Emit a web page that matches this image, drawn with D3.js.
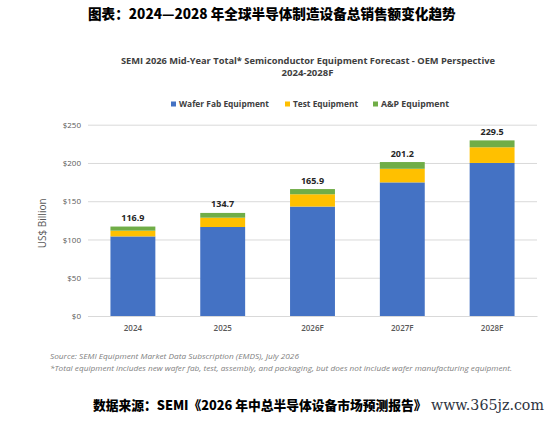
<!DOCTYPE html>
<html>
<head>
<meta charset="utf-8">
<script src="https://cdn.jsdelivr.net/npm/d3@7"></script>
<style>
  html, body { margin: 0; padding: 0; background: #fff; }
  svg { display: block; }
</style>
</head>
<body>
<svg id="chart" width="551" height="424"></svg>
<script>
// data (US$ billion)
const years = ['2024', '2025', '2026F', '2027F', '2028F'];
const waferFab = [104.0, 116.3, 143.0, 174.6, 200.0];
const testEq = [7.5, 12.2, 16.1, 17.8, 20.5];
const apEq = [5.4, 6.2, 6.8, 8.8, 9.0];
const totals = [116.9, 134.7, 165.9, 201.2, 229.5];
const seriesNames = ['Wafer Fab Equipment', 'Test Equipment', 'A&P Equipment'];
const seriesColors = ['#4472C4', '#FFC000', '#70AD47'];
const yTicks = [0, 50, 100, 150, 200, 250];

const pageTitle = '图表：2024—2028 年全球半导体制造设备总销售额变化趋势';
const chartTitle = ['SEMI 2026 Mid-Year Total* Semiconductor Equipment Forecast - OEM Perspective', '2024-2028F'];
const notes = [
  'Source: SEMI Equipment Market Data Subscription (EMDS), July 2026',
  '*Total equipment includes new wafer fab, test, assembly, and packaging, but does not include wafer manufacturing equipment.'
];
const footer = '数据来源：SEMI《2026 年中总半导体设备市场预测报告》';
const watermark = 'www.365jz.com';

const latin = 'Open Sans, Lato, sans-serif';
const cjk = '"Noto Sans CJK SC", sans-serif';

const svg = d3.select('#chart');
const plot = { left: 88, right: 537, top: 124.7, bottom: 316 };

// shrink/grow font so the natural text width equals the wanted width
function fitText(sel, width) {
  const size = parseFloat(sel.style('font-size'));
  const natural = sel.node().getComputedTextLength();
  sel.style('font-size', (size * width / natural) + 'px');
  return sel;
}

// table for the stack
const rows = years.map((y, i) => ({ year: y, wafer: waferFab[i], test: testEq[i], ap: apEq[i] }));
const keys = ['wafer', 'test', 'ap'];
const stacked = d3.stack().keys(keys)(rows);

const x = d3.scaleBand().domain(years)
  .range([plot.left, plot.right])
  .paddingInner(0.5).paddingOuter(0.25);
const y = d3.scaleLinear().domain([0, 250]).range([plot.bottom, plot.top]);

// page title (chinese)
const t0 = svg.append('text')
  .attr('x', 88).attr('y', 19)
  .style('font-family', cjk).style('font-weight', 900).style('font-size', '15px')
  .attr('fill', '#000')
  .text(pageTitle);
fitText(t0, 368);

// chart title
svg.append('text')
  .attr('x', 121).attr('y', 63.5)
  .attr('textLength', 374).attr('lengthAdjust', 'spacingAndGlyphs')
  .style('font-family', latin).style('font-weight', 700).style('font-size', '9.5px')
  .attr('fill', '#404040')
  .text(chartTitle[0]);
svg.append('text')
  .attr('x', 307.5).attr('y', 75.5)
  .attr('text-anchor', 'middle')
  .attr('textLength', 52).attr('lengthAdjust', 'spacingAndGlyphs')
  .style('font-family', latin).style('font-weight', 700).style('font-size', '9.5px')
  .attr('fill', '#404040')
  .text(chartTitle[1]);

// legend
const legendX = [171, 285, 373];
const legendW = [90, 65, 68];
const legend = svg.append('g').attr('class', 'legend');
seriesNames.forEach((name, i) => {
  legend.append('rect')
    .attr('x', legendX[i]).attr('y', 101.5)
    .attr('width', 5).attr('height', 5)
    .attr('fill', seriesColors[i]);
  legend.append('text')
    .attr('x', legendX[i] + 8).attr('y', 107.3)
    .attr('textLength', legendW[i]).attr('lengthAdjust', 'spacingAndGlyphs')
    .style('font-family', latin).style('font-weight', 700).style('font-size', '8px')
    .attr('fill', '#404040')
    .text(name);
});

// gridlines + y ticks
const yAxis = svg.append('g')
  .attr('transform', `translate(${plot.left},0)`)
  .call(d3.axisLeft(y).tickValues(yTicks)
    .tickSize(-(plot.right - plot.left))
    .tickPadding(7)
    .tickFormat(d => '$' + d));
yAxis.select('.domain').remove();
yAxis.selectAll('.tick line').attr('stroke', '#d9d9d9').attr('stroke-width', 1);
yAxis.selectAll('.tick text')
  .attr('fill', '#595959')
  .style('font-family', latin).style('font-size', '8px');

// y axis title
svg.append('text')
  .attr('transform', `translate(46,${(plot.top + plot.bottom) / 2 + 3}) rotate(-90)`)
  .attr('text-anchor', 'middle')
  .style('font-family', latin).style('font-size', '10px')
  .attr('fill', '#595959')
  .text('US$ Billion');

// stacked bars
svg.append('g').selectAll('g')
  .data(stacked)
  .join('g')
  .attr('fill', (d, i) => seriesColors[i])
  .selectAll('rect')
  .data(d => d)
  .join('rect')
  .attr('x', d => x(d.data.year))
  .attr('width', x.bandwidth())
  .attr('y', d => y(d[1]))
  .attr('height', d => y(d[0]) - y(d[1]));

// total labels
svg.append('g').selectAll('text')
  .data(years)
  .join('text')
  .attr('x', d => x(d) + x.bandwidth() / 2)
  .attr('y', (d, i) => y(totals[i]) - 5.5)
  .attr('text-anchor', 'middle')
  .style('font-family', latin).style('font-weight', 700).style('font-size', '9px')
  .attr('fill', '#262626')
  .text((d, i) => totals[i].toFixed(1));

// x axis labels
const xAxis = svg.append('g')
  .attr('transform', `translate(0,${plot.bottom})`)
  .call(d3.axisBottom(x).tickSize(0).tickPadding(9));
xAxis.select('.domain').attr('stroke', '#d9d9d9');
xAxis.selectAll('.tick text')
  .attr('fill', '#595959')
  .style('font-family', latin).style('font-weight', 600).style('font-size', '8px');

// notes
svg.append('text')
  .attr('x', 50).attr('y', 358.5)
  .attr('textLength', 249).attr('lengthAdjust', 'spacingAndGlyphs')
  .style('font-family', latin).style('font-style', 'italic').style('font-size', '7px')
  .attr('fill', '#7f7f7f')
  .text(notes[0]);
svg.append('text')
  .attr('x', 50).attr('y', 370.5)
  .attr('textLength', 462).attr('lengthAdjust', 'spacingAndGlyphs')
  .style('font-family', latin).style('font-style', 'italic').style('font-size', '7px')
  .attr('fill', '#7f7f7f')
  .text(notes[1]);

// footer + watermark (kept side by side so they do not collide)
const f0 = svg.append('text')
  .attr('x', 93).attr('y', 410)
  .style('font-family', cjk).style('font-weight', 900).style('font-size', '15px')
  .attr('fill', '#000')
  .text(footer);
fitText(f0, 334);
const w0 = svg.append('text')
  .attr('x', 431).attr('y', 410)
  .style('font-family', '"DejaVu Serif", serif').style('font-size', '14px')
  .attr('fill', '#2d3340')
  .text(watermark);
fitText(w0, 113);
</script>
</body>
</html>
